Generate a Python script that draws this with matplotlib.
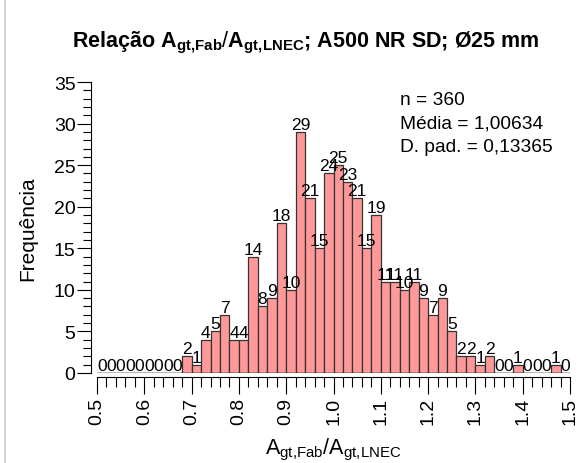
import numpy as np
import matplotlib
matplotlib.use("Agg")
import matplotlib.pyplot as plt
from matplotlib.ticker import MultipleLocator

plt.rcParams.update({
    "font.family": ["Liberation Sans", "DejaVu Sans"],
    "mathtext.fontset": "custom",
    "mathtext.rm": "Liberation Sans",
    "mathtext.it": "Liberation Sans",
    "mathtext.bf": "Liberation Sans:bold",
})

# histogram data: bins of 0.02 from 0.50 to 1.50
bin_left = np.round(np.arange(0.50, 1.50, 0.02), 2)
counts = [0, 0, 0, 0, 0, 0, 0, 0, 0,
          2, 1, 4, 5, 7, 4, 4, 14, 8, 9, 18, 10, 29, 21, 15, 24, 25, 23, 21, 15, 19,
          11, 11, 10, 11, 9, 7, 9, 5, 2, 2, 1, 2, 0, 0, 1, 0, 0, 0, 1, 0]
bin_w = 0.02
stats_txt = ["n = 360", "Média = 1,00634", "D. pad. = 0,13365"]
title = (r"Relação $\mathbf{A}_{\mathbf{gt{,}Fab}}/\mathbf{A}_{\mathbf{gt{,}LNEC}}$"
         r"; A500 NR SD; Ø25 mm")

fig = plt.figure(figsize=(5.83, 4.64), dpi=100)
ax = fig.add_axes([0.1664, 0.194, 0.8113, 0.627])

ax.bar(bin_left, counts, width=bin_w, align="edge", color="#ff9999",
       edgecolor="#333333", linewidth=0.9)
ax.plot([0.5, 1.5], [0, 0], color="black", lw=1.0)
for x, c in zip(bin_left, counts):
    ax.text(x + bin_w / 2, c, str(c), ha="center", va="bottom", fontsize=12.5)

ax.set_xlim(0.5, 1.5)
ax.set_ylim(0, 35)
for s in ["top", "right"]:
    ax.spines[s].set_visible(False)
ax.spines["left"].set_position(("outward", 4.5))
ax.spines["bottom"].set_position(("outward", 3))
ax.spines["left"].set_bounds(0, 35)
ax.spines["bottom"].set_bounds(0.5, 1.5)

ax.xaxis.set_minor_locator(MultipleLocator(0.02))
ax.yaxis.set_major_locator(MultipleLocator(5))
ax.yaxis.set_minor_locator(MultipleLocator(1))
ax.set_xticks(np.round(np.arange(0.5, 1.51, 0.1), 1))
ax.set_xticklabels([f"{v:.1f}" for v in np.arange(0.5, 1.51, 0.1)], rotation=90)
ax.tick_params(axis="x", which="major", length=12, width=0.8, labelsize=14, pad=2)
ax.tick_params(axis="x", which="minor", length=7, width=0.8)
ax.tick_params(axis="y", which="major", length=10, width=0.8, labelsize=14, pad=1)
ax.tick_params(axis="y", which="minor", length=6, width=0.8)

ax.set_xlabel(r"$\mathrm{A_{gt{,}Fab}/A_{gt{,}LNEC}}$", fontsize=15.5, labelpad=9)
ax.set_ylabel("Frequência", fontsize=15, labelpad=12)
fig.text(0.525, 0.908, title, ha="center", va="center", fontsize=15.5, fontweight="bold")

for i, t in enumerate(stats_txt):
    ax.text(0.64, 0.94 - i * 0.08, t, transform=ax.transAxes, fontsize=13.8,
            ha="left", va="center")

# light grey frame line at the left edge of the picture
fig.add_artist(plt.Line2D([0.009, 0.009], [0, 1], transform=fig.transFigure,
                          color="#cccccc", lw=1.2))

fig.savefig("out.png", dpi=100)
